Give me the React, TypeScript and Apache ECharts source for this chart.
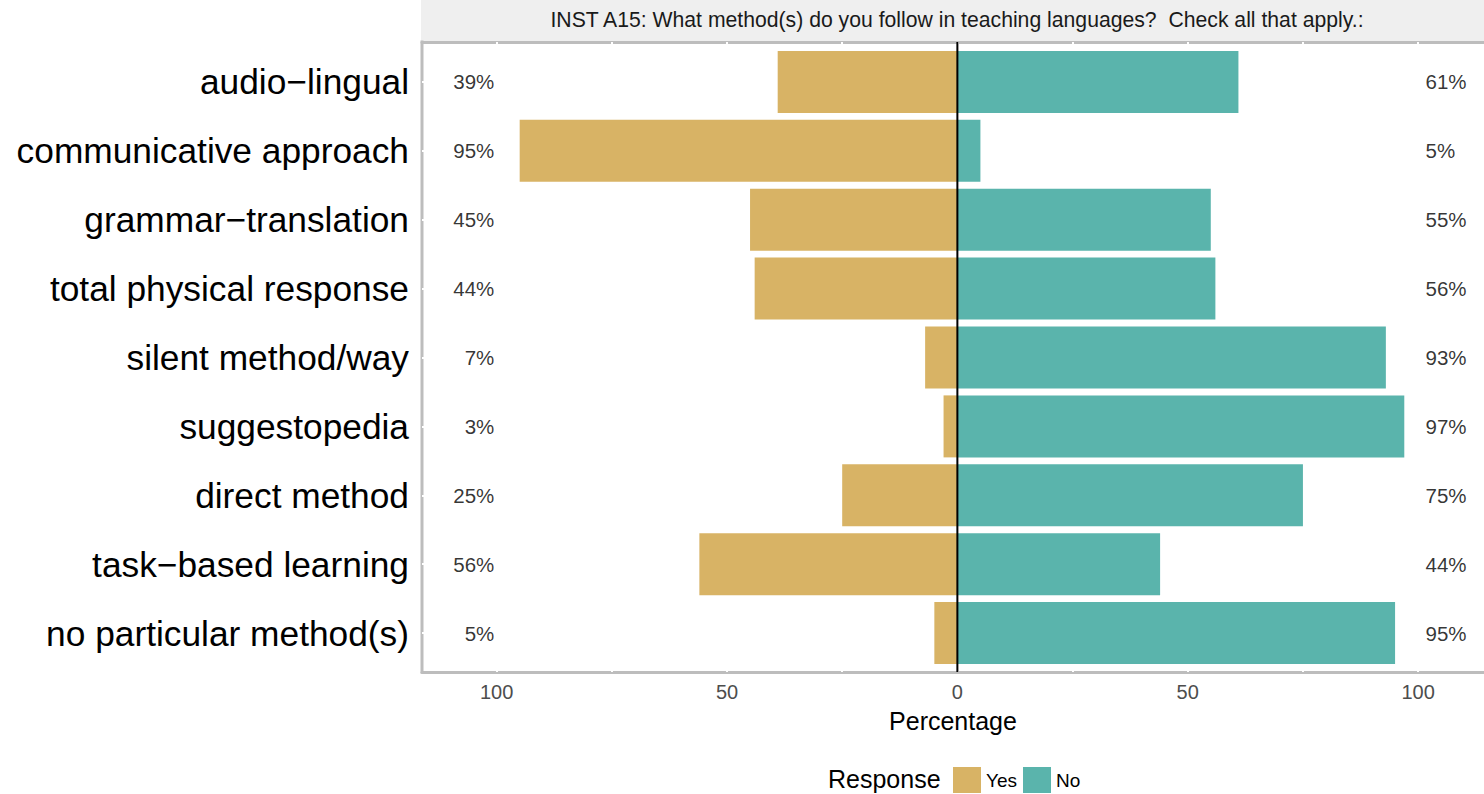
import React, { useEffect, useRef } from "react";
import * as echarts from "echarts";

const categories = [
  "audio−lingual",
  "communicative approach",
  "grammar−translation",
  "total physical response",
  "silent method/way",
  "suggestopedia",
  "direct method",
  "task−based learning",
  "no particular method(s)",
];
const yesValues = [39, 95, 45, 44, 7, 3, 25, 56, 5];
const noValues = [61, 5, 55, 56, 93, 97, 75, 44, 95];
const tickLabels = [-100, -50, 0, 50, 100];
const gridTicks = [-100, -75, -50, -25, 0, 25, 50, 75, 100];
const stripTitle =
  "INST A15: What method(s) do you follow in teaching languages?  Check all that apply.:";

const YES_COLOR = "#D8B365";
const NO_COLOR = "#5AB4AC";
const BORDER = "#bdbdbd";
const FONT = "Liberation Sans, Arial, sans-serif";

export default function App() {
  const ref = useRef<HTMLDivElement>(null);
  useEffect(() => {
    if (!ref.current) return;
    const chart = echarts.init(ref.current, null, { renderer: "svg" });
    const xMin = -116.2;
    const xMax = 114.3;
    const panelTop = 42;
    const panelBottom = 672;
    const panelLeft = 422;
    chart.setOption({
      animation: false,
      backgroundColor: "#ffffff",
      textStyle: { fontFamily: FONT },
      title: [
        {
          text: stripTitle,
          left: 957,
          top: 9,
          padding: 0,
          textAlign: "center",
          textStyle: { fontSize: 21.2, fontWeight: "normal", color: "#1a1a1a", fontFamily: FONT },
        },
        {
          text: "Response",
          left: 828,
          top: 766,
          padding: 0,
          textStyle: { fontSize: 25, fontWeight: "normal", color: "#000", fontFamily: FONT },
        },
      ],
      legend: {
        data: ["Yes", "No"],
        left: 953,
        top: 767,
        padding: 0,
        icon: "rect",
        itemWidth: 28,
        itemHeight: 26,
        itemGap: 6,
        textStyle: { fontSize: 19, color: "#000", fontFamily: FONT },
      },
      grid: { left: panelLeft, right: 0, top: 47.5, bottom: 126.5 },
      xAxis: [
        {
          type: "value",
          min: xMin,
          max: xMax,
          position: "bottom",
          offset: 4.5,
          splitLine: { show: false },
          axisLine: { show: true, onZero: false, lineStyle: { color: BORDER, width: 3 } },
          axisTick: {
            show: true,
            inside: true,
            length: 3,
            customValues: gridTicks,
            lineStyle: { color: "#ffffff", width: 2 },
          },
          axisLabel: {
            customValues: tickLabels,
            formatter: (v: number) => String(Math.abs(v)),
            fontSize: 20,
            color: "#4d4d4d",
            margin: 10,
            fontFamily: FONT,
          },
          name: "Percentage",
          nameLocation: "middle",
          nameGap: 36,
          nameTextStyle: { fontSize: 25, color: "#000", fontFamily: FONT },
        },
        {
          type: "value",
          min: xMin,
          max: xMax,
          position: "top",
          offset: 5.5,
          splitLine: { show: false },
          axisLine: { show: true, onZero: false, lineStyle: { color: BORDER, width: 3 } },
          axisTick: {
            show: true,
            inside: true,
            length: 3,
            customValues: gridTicks,
            lineStyle: { color: "#ffffff", width: 2 },
          },
          axisLabel: { show: false },
        },
      ],
      yAxis: {
        type: "category",
        data: categories,
        inverse: true,
        axisLine: { show: false, onZero: false },
        axisTick: {
          show: true,
          inside: true,
          alignWithLabel: true,
          length: 3,
          lineStyle: { color: "#ffffff", width: 2 },
        },
        axisLabel: { fontSize: 35.3, color: "#000", margin: 13, fontFamily: FONT },
        splitLine: { show: false },
      },
      series: [
        {
          name: "Yes",
          type: "bar",
          data: yesValues.map((v) => -v),
          barWidth: "90%",
          barGap: "-100%",
          itemStyle: { color: YES_COLOR },
        },
        {
          name: "No",
          type: "bar",
          data: noValues,
          barWidth: "90%",
          barGap: "-100%",
          itemStyle: { color: NO_COLOR },
        },
        {
          name: "yesLabels",
          type: "scatter",
          symbolSize: 1,
          itemStyle: { color: "rgba(0,0,0,0)" },
          data: categories.map((c, i) => [-100.4, c, yesValues[i]]),
          label: {
            show: true,
            position: "left",
            distance: 0,
            formatter: (p: any) => p.value[2] + "%",
            fontSize: 20.5,
            color: "#000",
            fontFamily: FONT,
          },
        },
        {
          name: "noLabels",
          type: "scatter",
          symbolSize: 1,
          itemStyle: { color: "rgba(0,0,0,0)" },
          data: categories.map((c, i) => [101.5, c, noValues[i]]),
          label: {
            show: true,
            position: "right",
            distance: 0,
            formatter: (p: any) => p.value[2] + "%",
            fontSize: 20.5,
            color: "#000",
            fontFamily: FONT,
          },
        },
      ],
    });
    const x0 = chart.convertToPixel({ xAxisIndex: 0 }, 0) as number;
    chart.setOption({
      graphic: [
        {
          type: "rect",
          z: -10,
          shape: { x: panelLeft - 1, y: 0, width: 1484 - panelLeft + 1, height: panelTop - 1 },
          style: { fill: "#efefef" },
        },
        {
          type: "line",
          z: -5,
          shape: { x1: panelLeft, y1: panelTop - 1.5, x2: panelLeft, y2: panelBottom + 1.5 },
          style: { stroke: BORDER, lineWidth: 3 },
        },
        {
          type: "line",
          z: 10,
          shape: { x1: x0, y1: panelTop, x2: x0, y2: panelBottom },
          style: { stroke: "#000", lineWidth: 2 },
        },
      ],
    });
    return () => chart.dispose();
  }, []);
  return (
    <div
      ref={ref}
      style={{ position: "fixed", left: 0, top: 0, width: 1484, height: 794 }}
    />
  );
}
